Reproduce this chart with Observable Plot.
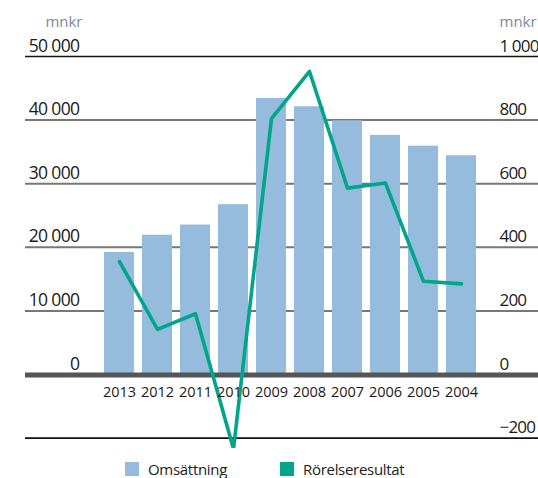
<!DOCTYPE html>
<html>
<head>
<meta charset="utf-8">
<script src="https://cdn.jsdelivr.net/npm/d3@7"></script>
<script src="https://cdn.jsdelivr.net/npm/@observablehq/plot@0.6"></script>
<style>
  html, body { margin: 0; padding: 0; background: #fff; }
  #wrap { position: relative; width: 538px; height: 478px; font-family: "Open Sans", sans-serif; }
  #legend { position: absolute; left: 0; top: 448px; width: 538px; height: 30px; }
  .sw { position: absolute; top: 14px; width: 14px; height: 14px; }
  .lt { position: absolute; top: 11px; font-size: 15px; color: #222; line-height: 20px; letter-spacing: -0.3px; white-space: nowrap; }
  g.tight { letter-spacing: -0.6px; }
  g.tighter { letter-spacing: -0.8px; }
</style>
</head>
<body>
<div id="wrap"></div>
<script>
const years = ["2013", "2012", "2011", "2010", "2009", "2008", "2007", "2006", "2005", "2004"];
const omsattning = [19200, 21900, 23500, 26700, 43400, 42100, 39900, 37600, 35900, 34400];
const rorelseresultat = [355, 142, 191, -234, 805, 953, 586, 602, 293, 285];
const leftTicks = [0, 10000, 20000, 30000, 40000, 50000];
const rightTicks = [-200, 0, 200, 400, 600, 800, 1000];
const unitLabel = "mnkr";
const seriesNames = ["Omsättning", "Rörelseresultat"];
const seriesColors = ["#95bcdc", "#00a58c"];

const ratio = 50000 / 1000; // right axis -> left axis units
const fmt = n => d3.format(",")(n).replace(/,/g, "\u2005");

const bars = years.map((y, i) => ({year: y, value: omsattning[i]}));
const line = years.map((y, i) => ({year: y, value: rorelseresultat[i] * ratio}));
const midGrid = leftTicks.filter(t => t > 0 && t < 50000);

const chart = Plot.plot({
  width: 538,
  height: 448,
  marginLeft: 25,
  marginRight: 0,
  marginTop: 56,
  marginBottom: 10,
  style: {fontFamily: "Open Sans, sans-serif", background: "#fff"},
  x: {domain: years, range: [99, 481], paddingInner: 0.2, paddingOuter: 0.1, axis: null},
  y: {domain: [-10000, 50000], range: [437.6, 56], axis: null},
  marks: [
    Plot.ruleY(midGrid, {stroke: "#777", strokeWidth: 2}),
    Plot.ruleY([50000, rightTicks[0] * ratio], {stroke: "#111", strokeWidth: 1.6}),
    Plot.barY(bars, {x: "year", y: "value", fill: seriesColors[0], inset: 0}),
    Plot.ruleY([0], {stroke: "#555", strokeWidth: 5, dy: 0.5}),
    Plot.lineY(line, {x: "year", y: "value", stroke: seriesColors[1], strokeWidth: 3.6}),
    Plot.text(leftTicks, {y: d => d, text: d => fmt(d), frameAnchor: "left", dx: 54, dy: -5,
      textAnchor: "end", lineAnchor: "bottom", fontSize: 17.5, fill: "#1a1a1a", className: "tight"}),
    Plot.text(rightTicks, {y: d => d * ratio, text: d => fmt(d), frameAnchor: "right", dx: -39, dy: -5,
      textAnchor: "start", lineAnchor: "bottom", fontSize: 17, fill: "#1a1a1a", className: "tighter"}),
    Plot.text(years, {x: d => d, y: () => 0, text: d => d, dy: 22.5, lineAnchor: "bottom",
      fontSize: 14.5, fill: "#1a1a1a"}),
    Plot.text([unitLabel], {frameAnchor: "top-left", text: d => d, dx: 57, dy: -30,
      textAnchor: "end", lineAnchor: "bottom", fontSize: 15, fill: "#7d8a94"}),
    Plot.text([unitLabel], {frameAnchor: "top-right", text: d => d, dx: -39, dy: -30,
      textAnchor: "start", lineAnchor: "bottom", fontSize: 15, fill: "#7d8a94"})
  ]
});

const wrap = document.getElementById("wrap");
wrap.appendChild(chart);
chart.style.position = "absolute";
chart.style.left = "0";
chart.style.top = "0";

const legend = document.createElement("div");
legend.id = "legend";
const positions = [125, 280];
seriesNames.forEach((name, i) => {
  const sw = document.createElement("div");
  sw.className = "sw";
  sw.style.left = positions[i] + "px";
  sw.style.background = seriesColors[i];
  const t = document.createElement("div");
  t.className = "lt";
  t.style.left = (positions[i] + 23) + "px";
  t.textContent = name;
  legend.appendChild(sw);
  legend.appendChild(t);
});
wrap.appendChild(legend);
</script>
</body>
</html>
